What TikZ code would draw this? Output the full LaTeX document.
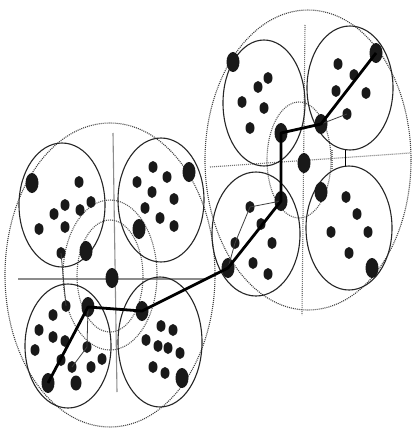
\documentclass[tikz,border=0pt]{standalone}
\usetikzlibrary{shapes.geometric}
\begin{document}
\begin{tikzpicture}[x=1pt,y=-1pt,
  sdot/.style={ellipse,fill=black!90,inner sep=0pt,minimum width=9pt,minimum height=12pt},
  mdot/.style={ellipse,fill=black!90,inner sep=0pt,minimum width=11pt,minimum height=15pt},
  ldot/.style={ellipse,fill=black!90,inner sep=0pt,minimum width=13pt,minimum height=20pt},
  clus/.style={draw=black!85,line width=1.1pt},
  bigring/.style={draw=black!75,dash pattern=on 1pt off 1pt,line width=1.1pt},
  ring/.style={draw=black!65,dash pattern=on 1pt off 1pt,line width=1.1pt},
  axisline/.style={draw=black!45,line width=1.1pt},
  daxis/.style={draw=black!55,dash pattern=on 1pt off 1pt,line width=1.1pt},
  mainpath/.style={line width=2.8pt,black},
  link/.style={line width=0.8pt,black!75}]
\useasboundingbox (0,0) rectangle (416,433);
\fill[white] (0,0) rectangle (416,433);

% ---------- left group ----------
\draw[bigring] (110,275) ellipse [x radius=105pt, y radius=152pt];
\draw[axisline] (113,133) -- (117,392);
\draw[axisline] (18,279) -- (205,279);
\draw[ring] (110,275) ellipse [x radius=47pt, y radius=75pt];
\draw[ring] (110,276) ellipse [x radius=33pt, y radius=56pt];
\draw[clus] (62,205) ellipse [x radius=43pt, y radius=62pt];
\draw[clus] (161,200) ellipse [x radius=43pt, y radius=62pt];
\draw[clus] (68,346) ellipse [x radius=43pt, y radius=62pt];
\draw[clus] (160,342) ellipse [x radius=42pt, y radius=65pt];

% ---------- right group ----------
\draw[bigring] (308,160) ellipse [x radius=103pt, y radius=150pt];
\draw[daxis] (210,167) -- (410,153);
\draw[daxis] (305,25) -- (302,315);
\draw[ring] (299,160) ellipse [x radius=32pt, y radius=58pt];
\draw[clus] (264,103) ellipse [x radius=41pt, y radius=63pt];
\draw[clus] (350,88) ellipse [x radius=43pt, y radius=62pt];
\draw[clus] (256,234) ellipse [x radius=44pt, y radius=62pt];
\draw[clus] (349,228) ellipse [x radius=43pt, y radius=62pt];
\coordinate (b1) at (345,150);
\coordinate (b2) at (345,166);
\draw[line width=0.8pt] (b1) -- (b2);
\coordinate (b3) at (332,150);
\coordinate (b4) at (332,170);
\draw[daxis] (b3) -- (b4);

% ---------- dots: left group ----------
\node[ldot] (c1) at (112,278) {};
% top-left
\node[ldot] (a1) at (32,183) {};
\node[ldot] (a2) at (86,251) {};
\node[sdot] (a3) at (79,182) {};
\node[sdot] (a4) at (91,202) {};
\node[sdot] (a5) at (80,210) {};
\node[sdot] (a6) at (65,205) {};
\node[sdot] (a7) at (54,214) {};
\node[sdot] (a8) at (65,227) {};
\node[sdot] (a9) at (39,229) {};
\node[sdot] (a10) at (61,253) {};
% top-right
\node[ldot] (b11) at (189,172) {};
\node[ldot] (b12) at (139,229) {};
\node[sdot] (b13) at (153,167) {};
\node[sdot] (b14) at (167,177) {};
\node[sdot] (b15) at (137,182) {};
\node[sdot] (b16) at (152,192) {};
\node[sdot] (b17) at (174,199) {};
\node[sdot] (b18) at (145,208) {};
\node[sdot] (b19) at (160,218) {};
\node[sdot] (b20) at (174,226) {};
% bottom-left
\node[ldot] (d1) at (88,307) {};
\node[ldot] (d2) at (48,383) {};
\node[sdot] (d3) at (66,306) {};
\node[sdot] (d4) at (53,315) {};
\node[sdot] (d5) at (39,330) {};
\node[sdot] (d6) at (53,337) {};
\node[sdot] (d7) at (65,341) {};
\node[sdot] (d8) at (87,347) {};
\node[sdot] (d9) at (35,350) {};
\node[sdot] (d10) at (102,359) {};
\node[sdot] (d11) at (61,360) {};
\node[sdot] (d12) at (91,367) {};
\node[sdot] (d13) at (72,367) {};
\node[mdot] (d14) at (76,383) {};
% bottom-right
\node[ldot] (e1) at (142,311) {};
\node[ldot] (e2) at (182,378) {};
\node[sdot] (e3) at (161,326) {};
\node[sdot] (e4) at (173,330) {};
\node[sdot] (e5) at (146,340) {};
\node[sdot] (e6) at (158,346) {};
\node[sdot] (e7) at (168,348) {};
\node[sdot] (e8) at (180,353) {};
\node[sdot] (e9) at (153,367) {};
\node[sdot] (e10) at (165,373) {};

% ---------- dots: right group ----------
\node[ldot] (c2) at (304,163) {};
% top-left
\node[ldot] (f1) at (233,62) {};
\node[ldot] (f2) at (281,133) {};
\node[sdot] (f3) at (268,78) {};
\node[sdot] (f4) at (258,87) {};
\node[sdot] (f5) at (242,102) {};
\node[sdot] (f6) at (264,108) {};
\node[sdot] (f7) at (250,128) {};
% top-right
\node[ldot] (g1) at (376,53) {};
\node[ldot] (g2) at (321,124) {};
\node[sdot] (g3) at (338,64) {};
\node[sdot] (g4) at (354,75) {};
\node[sdot] (g5) at (336,91) {};
\node[sdot] (g6) at (366,93) {};
\node[sdot] (g7) at (347,114) {};
% bottom-left
\node[ldot] (h1) at (281,201) {};
\node[ldot] (h2) at (228,268) {};
\node[sdot] (h3) at (250,207) {};
\node[sdot] (h4) at (261,224) {};
\node[sdot] (h5) at (235,243) {};
\node[sdot] (h6) at (272,243) {};
\node[sdot] (h7) at (253,263) {};
\node[sdot] (h8) at (268,274) {};
% bottom-right
\node[ldot] (k1) at (321,192) {};
\node[ldot] (k2) at (372,268) {};
\node[sdot] (k3) at (346,197) {};
\node[sdot] (k4) at (357,214) {};
\node[sdot] (k5) at (331,232) {};
\node[sdot] (k6) at (368,232) {};
\node[sdot] (k7) at (349,253) {};

% ---------- links ----------
\draw[link] (a10.center) -- (d3.center);
\draw[link] (d1.center) -- (d8.center) -- (d13.center);
\draw[link] (h1.center) -- (h3.center) -- (h5.center) -- (h2.center);
\draw[link] (g7.center) -- (g2.center);
\draw[mainpath,line join=round] (d2.center) -- (d1.center) -- (e1.center) -- (h2.center)
  -- (h1.center) -- (f2.center) -- (g2.center) -- (g1.center);
\end{tikzpicture}
\end{document}
